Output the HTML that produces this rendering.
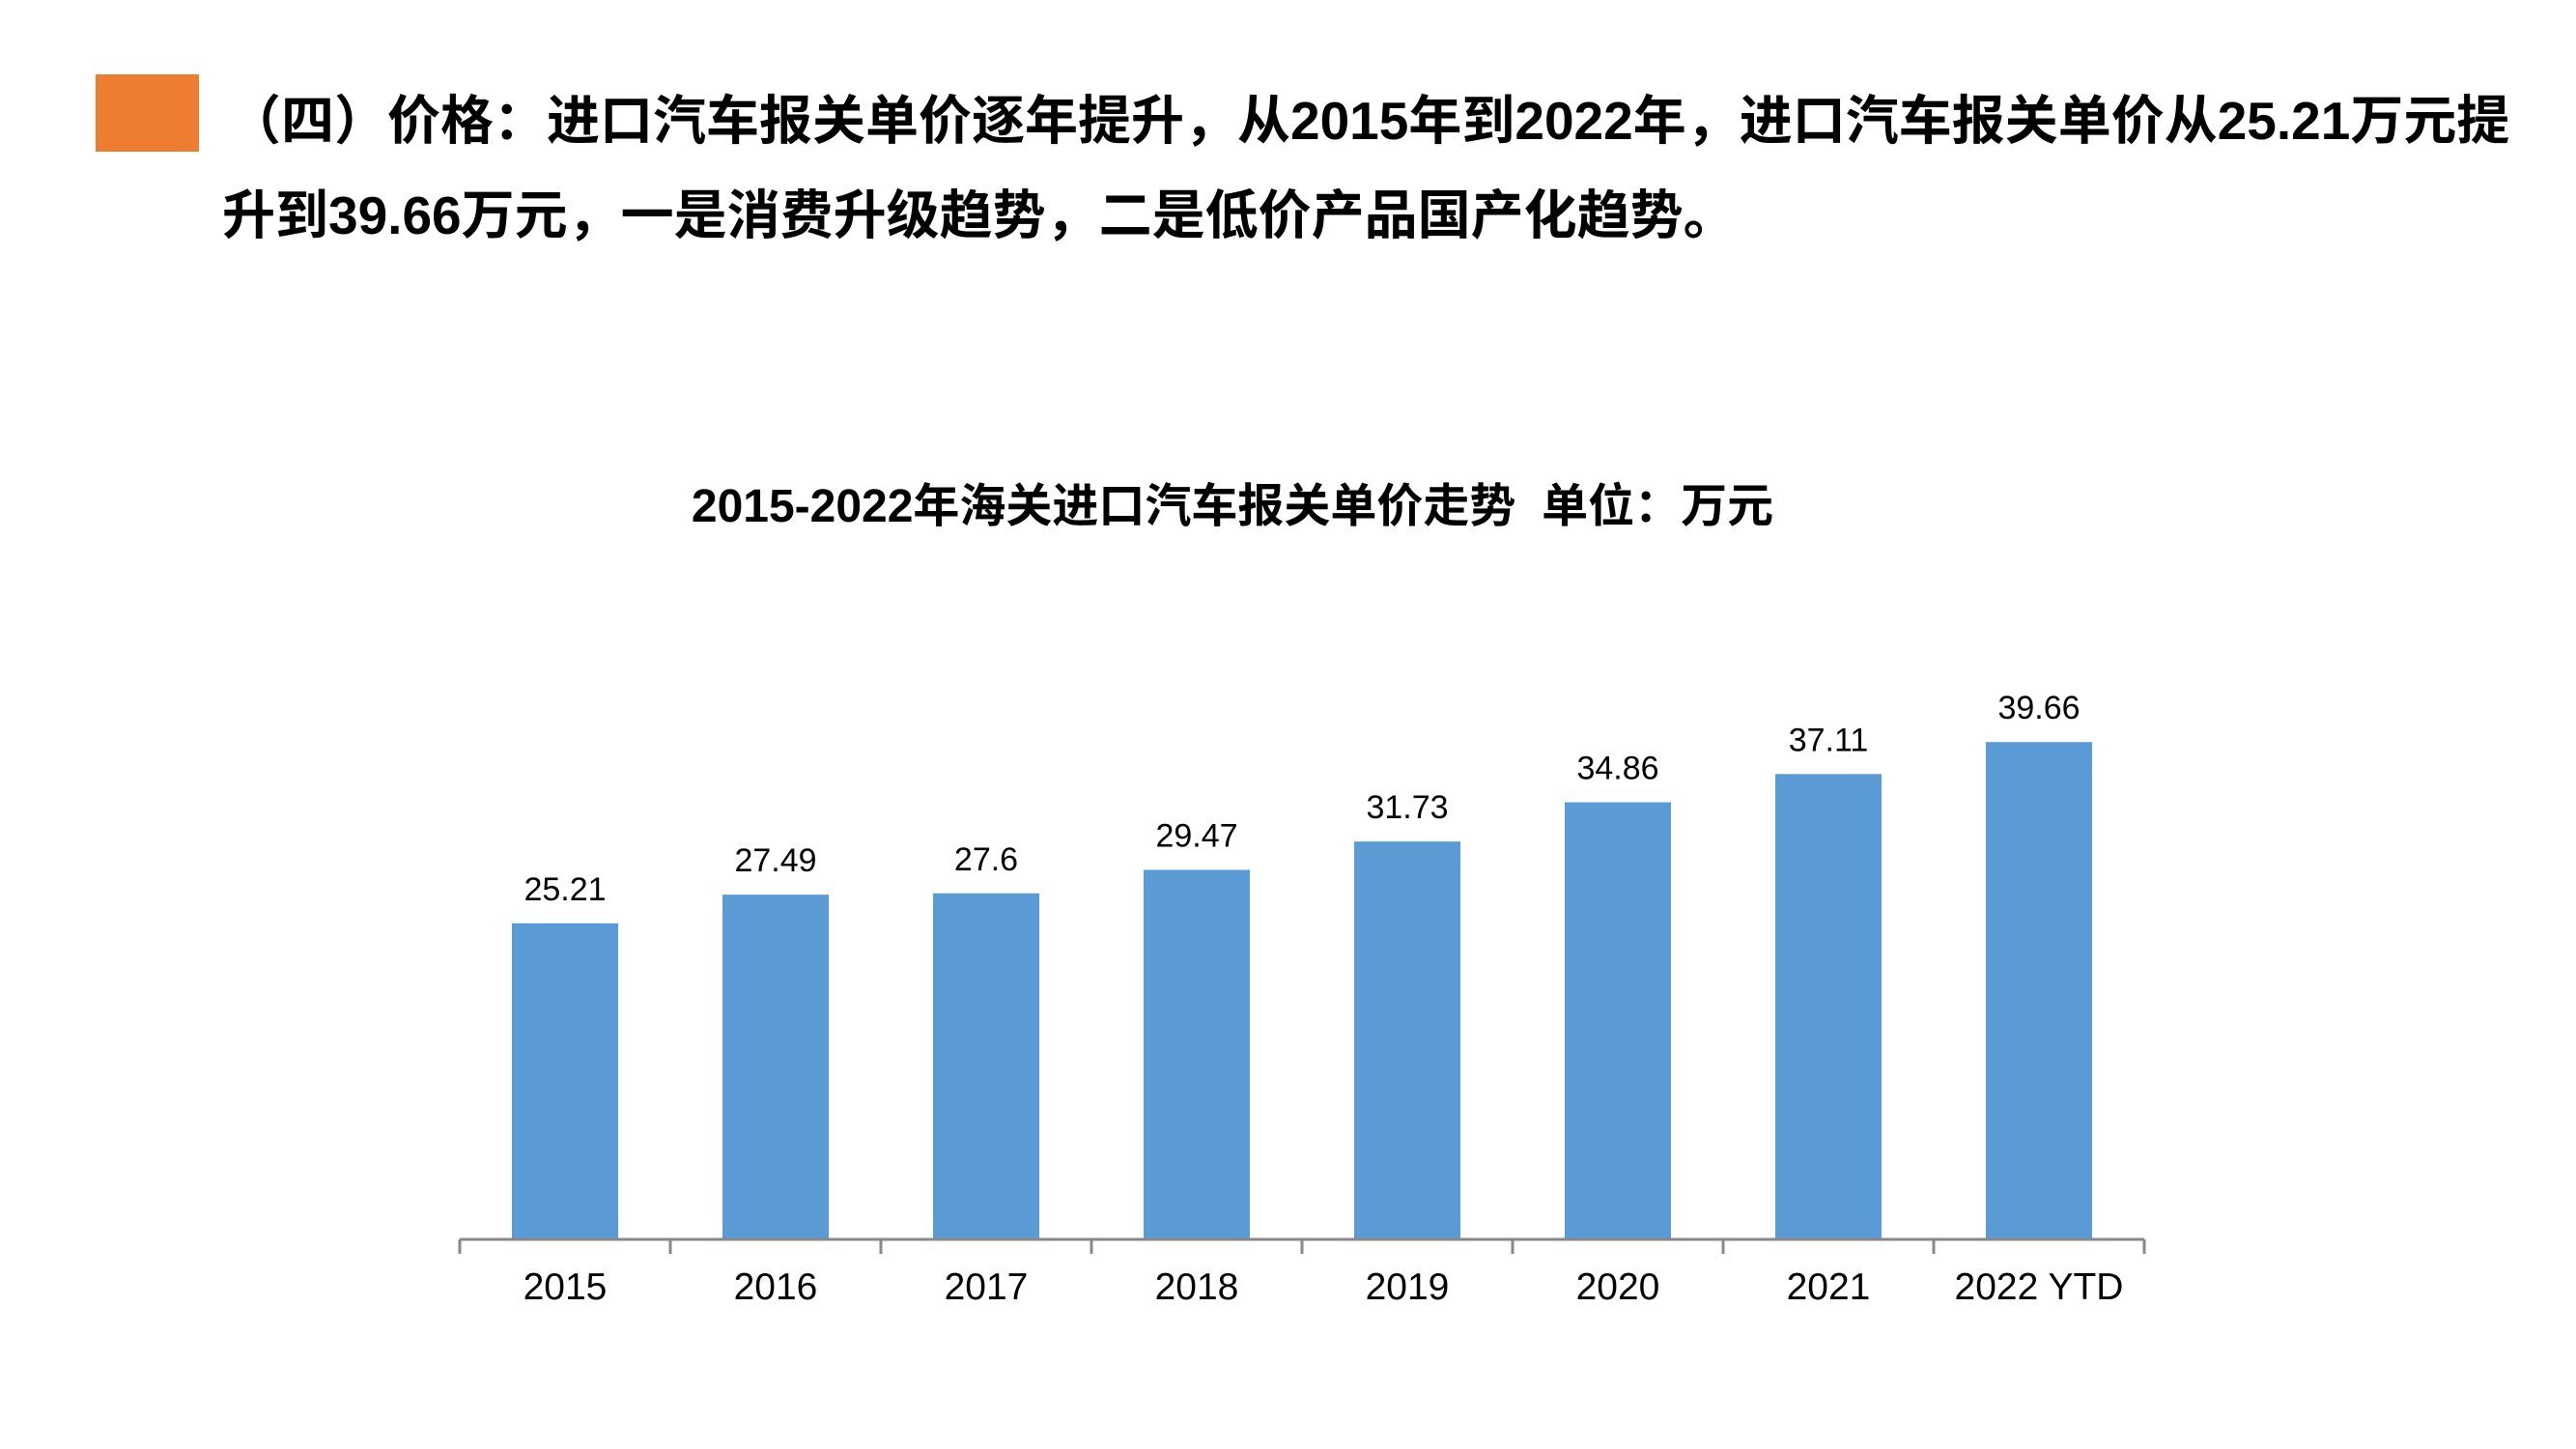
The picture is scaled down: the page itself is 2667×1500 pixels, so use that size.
<!DOCTYPE html>
<html><head><meta charset="utf-8"><style>
body{margin:0;width:2667px;height:1500px;background:#fff;overflow:hidden;position:relative;font-family:"Liberation Sans","Noto Sans CJK SC",sans-serif}
.t{position:absolute;font-weight:bold;color:#000;white-space:nowrap;font-size:55px}
</style></head><body>
<div style="position:absolute;left:99px;top:77px;width:107px;height:80px;background:#ED7D31"></div>
<div class="t" style="left:236px;top:80px">（四）价格：进口汽车报关单价逐年提升，从2015年到2022年，进口汽车报关单价从25.21万元提</div>
<div class="t" style="left:230px;top:178px">升到39.66万元，一是消费升级趋势，二是低价产品国产化趋势。</div>
<svg width="2667" height="1500" style="position:absolute;left:0;top:0">
<text x="1276" y="540" text-anchor="middle" font-size="48" font-weight="bold" font-family="Liberation Sans, Noto Sans CJK SC, sans-serif" style="white-space:pre">2015-2022年海关进口汽车报关单价走势  单位：万元</text>
<g id="g"></g>
</svg>
<script>
const categories=["2015","2016","2017","2018","2019","2020","2021","2022 YTD"];
const values=[25.21,27.49,27.6,29.47,31.73,34.86,37.11,39.66];
const labels=["25.21","27.49","27.6","29.47","31.73","34.86","37.11","39.66"];
const x0=476,step=218,y0=1283,k=12.98,bw=110;
const ns="http://www.w3.org/2000/svg",g=document.getElementById('g');
function xs(i){return x0+step*i+step/2;}
function ys(v){return y0-v*k;}
function mk(t,a){const e=document.createElementNS(ns,t);for(const q in a)e.setAttribute(q,a[q]);g.appendChild(e);return e;}
values.forEach((v,i)=>{
 const r=mk('rect',{x:xs(i)-bw/2,y:ys(v),width:bw,height:y0-ys(v),fill:'#5B9BD5'});
 
 
 const t=mk('text',{x:xs(i),y:ys(v)-24,'text-anchor':'middle','font-size':34,'font-family':'Liberation Sans, sans-serif',fill:'#000'});
 t.textContent=labels[i];
 
 
 const c=mk('text',{x:xs(i),y:1345,'text-anchor':'middle','font-size':39,'font-family':'Liberation Sans, sans-serif',fill:'#000'});
 c.textContent=categories[i];
 
 
});
const ax=mk('line',{x1:x0,x2:x0+step*categories.length,y1:y0,y2:y0,stroke:'#898989','stroke-width':3});


for(let i=0;i<=categories.length;i++){
 const tk=mk('line',{x1:x0+step*i,x2:x0+step*i,y1:y0,y2:y0+15,stroke:'#898989','stroke-width':3});
 
 
}
</script>
</body></html>
